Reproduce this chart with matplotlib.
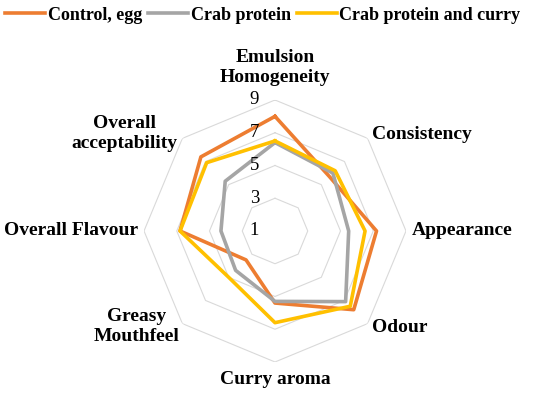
import numpy as np
import matplotlib.pyplot as plt

plt.rcParams['font.family'] = ['Liberation Serif', 'DejaVu Serif']

# sensory attributes, clockwise from top
categories = ['Emulsion\nHomogeneity', 'Consistency', 'Appearance', 'Odour',
              'Curry aroma', 'Greasy\nMouthfeel', 'Overall Flavour',
              'Overall\nacceptability']
control = [8.0, 5.7, 7.2, 7.8, 5.4, 3.5, 6.8, 7.4]
crab = [6.4, 6.0, 5.5, 7.1, 5.3, 4.4, 4.3, 5.3]
crab_curry = [6.5, 6.2, 6.5, 7.5, 6.6, 5.0, 6.8, 6.9]
series_names = ['Control, egg', 'Crab protein', 'Crab protein and curry']
ring_levels = [1, 3, 5, 7, 9]

colors = ['#ED7D31', '#A5A5A5', '#FFC000']

n = len(categories)
theta = np.linspace(0, 2 * np.pi, n, endpoint=False)
theta_c = np.append(theta, theta[0])

fig = plt.figure(figsize=(5.5, 3.96), dpi=100)
ax = fig.add_axes([0.2618, 0.0859, 0.4764, 0.6616], projection='polar')
ax.set_theta_offset(np.pi / 2)
ax.set_theta_direction(-1)
ax.set_ylim(1, 9)
ax.grid(False)
ax.spines['polar'].set_visible(False)
ax.set_xticks([])
ax.set_yticks([])

# octagon grid
for lvl in ring_levels[1:]:
    ax.plot(theta_c, [lvl] * (n + 1), color='#d9d9d9', lw=0.8, zorder=1)

lines = []
for vals, col, name in zip([control, crab, crab_curry], colors, series_names):
    l, = ax.plot(theta_c, vals + vals[:1], color=col, lw=2.6, label=name, zorder=3)
    lines.append(l)

# value labels along the top axis
for lvl in ring_levels:
    ax.annotate(str(lvl), xy=(0, lvl), xytext=(-11.5, 0), textcoords='offset points',
                ha='right', va='center', fontsize=13.5)

# category labels
lab_r = [11.0, 9.35, 9.38, 9.35, 10.1, 9.24, 9.38, 9.41]
lab_ha = ['center', 'left', 'left', 'left', 'center', 'right', 'right', 'right']
for t, lab, r, ha in zip(theta, categories, lab_r, lab_ha):
    ax.text(t, r, lab, ha=ha, va='center', multialignment='center',
            fontsize=14, fontweight='bold', linespacing=1.25)

fig.legend(handles=lines, loc='center', bbox_to_anchor=(0.478, 1 - 15 / 396),
           ncol=3, frameon=False, prop={'weight': 'bold', 'size': 13},
           handlelength=2.2, handletextpad=0.15, columnspacing=0.35,
           borderaxespad=0)

fig.savefig('out.png', dpi=100)
